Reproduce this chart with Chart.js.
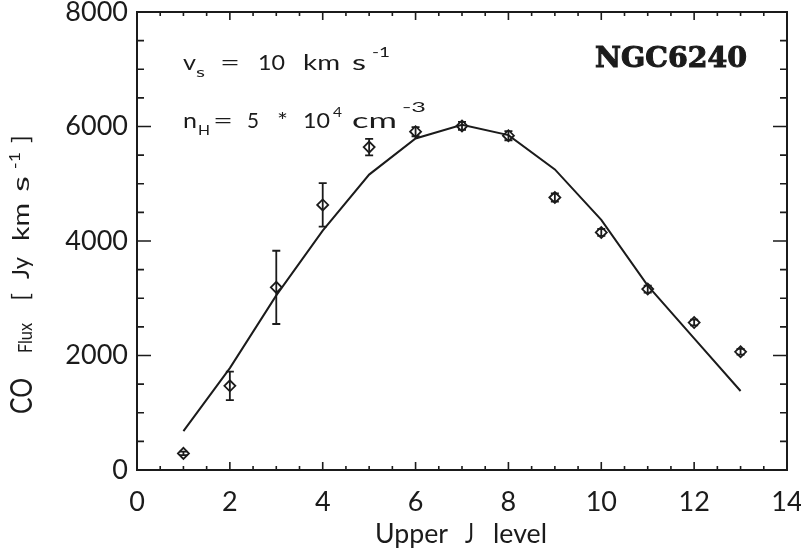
<!DOCTYPE html>
<html>
<head>
<meta charset="utf-8">
<script src="https://cdn.jsdelivr.net/npm/chart.js@4.4.1/dist/chart.umd.min.js"></script>
<style>
    html, body { margin: 0; padding: 0; background: #fff; }
    canvas { display: block; }
</style>
</head>
<body>
<canvas id="coChart" width="801" height="549"></canvas>
<script>
// CO ladder of NGC6240: observed fluxes and shock model

const jLevels = [1, 2, 3, 4, 5, 6, 7, 8, 9, 10, 11, 12, 13];
const fluxObserved = [290, 1470, 3190, 4630, 5640, 5910, 6010, 5840, 4760, 4150, 3160, 2575, 2065];
const fluxError = [30, 250, 640, 380, 145, 80, 70, 80, 70, 60, 60, 50, 50];
const fluxModel = [680, 1780, 3050, 4180, 5160, 5790, 6030, 5850, 5250, 4370, 3220, 2300, 1380];

const xTicks = [0, 2, 4, 6, 8, 10, 12, 14];
const yTicks = [0, 2000, 4000, 6000, 8000];

const ink = '#1b1b1b';
const labelFont = 'Lato';

// Draw a word stretched horizontally so it runs from x0 to x1
function fitWord(ctx, text, x0, x1, yb, font) {
    ctx.font = font;
    const w = ctx.measureText(text).width;
    const sx = w > 0 ? (x1 - x0) / w : 1;
    ctx.save();
    ctx.translate(x0, yb);
    ctx.scale(sx, 1);
    ctx.fillText(text, 0, 0);
    ctx.restore();
}

// Error bars on the observed points
const errorBarPlugin = {
    id: 'errorBars',
    afterDatasetsDraw(chart) {
        const { ctx, scales: { x, y } } = chart;
        ctx.save();
        ctx.strokeStyle = ink;
        ctx.lineWidth = 1.8;
        ctx.beginPath();
        jLevels.forEach((j, i) => {
            const px = x.getPixelForValue(j);
            const top = y.getPixelForValue(fluxObserved[i] + fluxError[i]);
            const bot = y.getPixelForValue(fluxObserved[i] - fluxError[i]);
            ctx.moveTo(px, top); ctx.lineTo(px, bot);
            ctx.moveTo(px - 4, top); ctx.lineTo(px + 4, top);
            ctx.moveTo(px - 4, bot); ctx.lineTo(px + 4, bot);
        });
        ctx.stroke();
        ctx.restore();
    }
};

// Box frame with inward ticks on all four sides
const framePlugin = {
    id: 'frame',
    afterDatasetsDraw(chart) {
        const { ctx, chartArea: a, scales: { x, y } } = chart;
        ctx.save();
        ctx.strokeStyle = ink;
        ctx.lineWidth = 2;
        ctx.strokeRect(a.left, a.top, a.right - a.left, a.bottom - a.top);
        ctx.lineWidth = 1.6;
        ctx.beginPath();
        for (let v = x.min; v <= x.max; v += 0.5) {
            const px = x.getPixelForValue(v);
            const len = v % 2 === 0 ? 8 : 4;
            ctx.moveTo(px, a.bottom); ctx.lineTo(px, a.bottom - len);
            ctx.moveTo(px, a.top); ctx.lineTo(px, a.top + len);
        }
        for (let v = y.min; v <= y.max; v += 500) {
            const py = y.getPixelForValue(v);
            const len = v % 2000 === 0 ? 14 : 7;
            ctx.moveTo(a.left, py); ctx.lineTo(a.left + len, py);
            ctx.moveTo(a.right, py); ctx.lineTo(a.right - len, py);
        }
        ctx.stroke();
        ctx.restore();
    }
};

// Axis titles and annotations
const textPlugin = {
    id: 'texts',
    afterDraw(chart) {
        const ctx = chart.ctx;
        const big = '21px ' + labelFont;
        const small = '14px ' + labelFont;
        ctx.save();
        ctx.fillStyle = ink;
        ctx.textBaseline = 'alphabetic';
        ctx.textAlign = 'left';

        // x title
        const xt = '27px ' + labelFont;
        fitWord(ctx, 'Upper', 375, 448, 543, xt);
        fitWord(ctx, 'J', 465, 474, 543, xt);
        fitWord(ctx, 'level', 493, 547, 543, xt);

        // y title, rotated
        ctx.save();
        ctx.translate(32, 0);
        ctx.rotate(-Math.PI / 2);
        const yt = '23px ' + labelFont;
        fitWord(ctx, 'CO', -414, -378, 0, '30px ' + labelFont);
        fitWord(ctx, 'Flux', -353, -323, 0, '19px ' + labelFont);
        fitWord(ctx, '[', -301, -293, -3, yt);
        fitWord(ctx, 'Jy', -279, -257, -3, yt);
        fitWord(ctx, 'km', -241, -203, -3, yt);
        fitWord(ctx, 's', -192, -176, -3, yt);
        fitWord(ctx, '-1', -169, -152, -12, '15px ' + labelFont);
        fitWord(ctx, ']', -143, -135, -3, yt);
        ctx.restore();

        // model parameters
        fitWord(ctx, 'v', 183, 196, 70, big);
        fitWord(ctx, 's', 196, 205, 77, small);
        fitWord(ctx, '=', 220, 240, 70, big);
        fitWord(ctx, '10', 258, 285, 70, big);
        fitWord(ctx, 'km', 303, 340, 70, big);
        fitWord(ctx, 's', 352, 366, 70, big);
        fitWord(ctx, '-1', 372, 390, 57, small);

        fitWord(ctx, 'n', 183, 197, 128, big);
        fitWord(ctx, 'H', 198, 210, 135, small);
        fitWord(ctx, '=', 213, 233, 128, big);
        fitWord(ctx, '5', 247, 259, 128, big);
        fitWord(ctx, '*', 277, 288, 128, big);
        fitWord(ctx, '10', 303, 330, 128, big);
        fitWord(ctx, '4', 333, 342, 117, small);
        fitWord(ctx, 'cm', 352, 397, 128, big);
        fitWord(ctx, '-3', 402, 426, 112, small);

        // galaxy name, slightly thickened
        ctx.font = 'bold 27px "DejaVu Serif"';
        const nw = ctx.measureText('NGC6240').width;
        ctx.save();
        ctx.translate(595, 67);
        ctx.scale(152 / nw, 1);
        ctx.lineWidth = 1;
        ctx.strokeStyle = ink;
        ctx.fillText('NGC6240', 0, 0);
        ctx.strokeText('NGC6240', 0, 0);
        ctx.restore();
        ctx.restore();
    }
};

const ctx = document.getElementById('coChart');
new Chart(ctx, {
    type: 'scatter',
    data: {
        datasets: [
            {
                label: 'Model',
                data: jLevels.map((j, i) => ({ x: j, y: fluxModel[i] })),
                showLine: true,
                borderColor: ink,
                borderWidth: 2,
                pointRadius: 0,
                tension: 0
            },
            {
                label: 'Observed',
                data: jLevels.map((j, i) => ({ x: j, y: fluxObserved[i] })),
                pointStyle: 'rectRot',
                pointRadius: 5.5,
                pointBorderWidth: 1.8,
                pointBorderColor: ink,
                pointBackgroundColor: 'rgba(0,0,0,0)',
                showLine: false
            }
        ]
    },
    options: {
        responsive: false,
        animation: false,
        layout: { padding: { top: 12, right: 14, left: 0, bottom: 0 } },
        plugins: {
            legend: { display: false },
            tooltip: { enabled: false }
        },
        scales: {
            x: {
                type: 'linear',
                min: 0,
                max: 14,
                afterBuildTicks: s => { s.ticks = xTicks.map(v => ({ value: v })); },
                afterFit: s => { s.height = 79; s.paddingLeft = 0; s.paddingRight = 0; },
                grid: { display: false, drawTicks: false },
                border: { display: false },
                ticks: {
                    color: ink,
                    padding: 19,
                    maxRotation: 0,
                    callback: v => String(v),
                    font: { family: labelFont, size: 27, lineHeight: 1 }
                }
            },
            y: {
                type: 'linear',
                min: 0,
                max: 8000,
                afterBuildTicks: s => { s.ticks = yTicks.map(v => ({ value: v })); },
                afterFit: s => { s.width = 137; s.paddingTop = 0; s.paddingBottom = 0; },
                grid: { display: false, drawTicks: false },
                border: { display: false },
                ticks: {
                    color: ink,
                    padding: 9,
                    callback: v => String(v),
                    font: { family: labelFont, size: 27, lineHeight: 1 }
                }
            }
        }
    },
    plugins: [errorBarPlugin, framePlugin, textPlugin]
});
</script>
</body>
</html>
